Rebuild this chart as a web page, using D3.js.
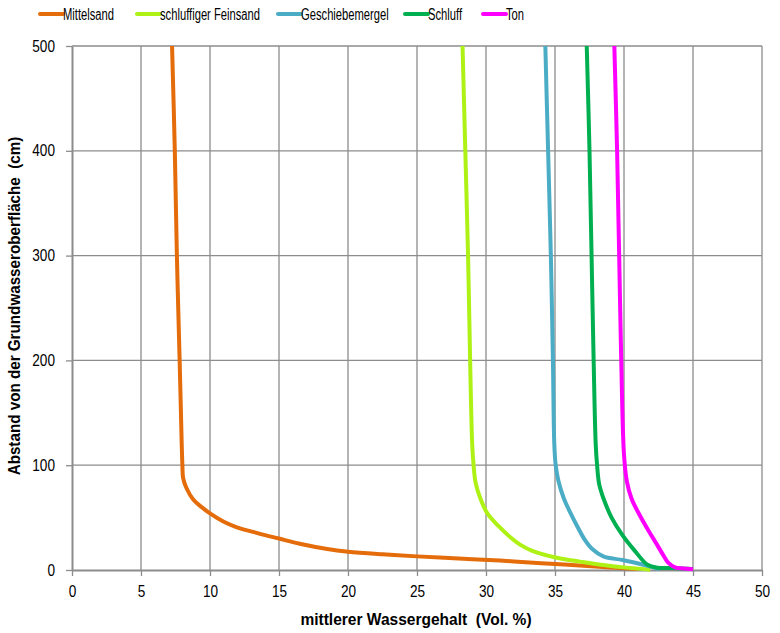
<!DOCTYPE html>
<html>
<head>
<meta charset="utf-8">
<script src="https://cdn.jsdelivr.net/npm/d3@7"></script>
<style>
  body { margin: 0; background: #fff; }
  text { font-family: "Liberation Sans", Arial, sans-serif; fill: #000; white-space: pre; }
</style>
</head>
<body>
<svg id="chart" width="780" height="633"></svg>
<script>
// mean water content (Vol. %) against height above groundwater table (cm)
var mittelsand = [[7.25,500],[7.45,400],[7.6,300],[7.8,200],[7.95,120],[8.0,100],[8.05,88],[8.3,78],[8.8,67],[9.4,60],[10,54],[11,46],[11.9,41],[13.5,35],[15,30],[16.5,25],[18.5,20],[20,17.5],[22.5,15],[25,13],[28,11],[31,9],[34,6.5],[36.5,4.5],[39,2.5],[41,1]];
var feinsand = [[28.3,500],[28.5,400],[28.7,300],[28.85,200],[29.0,120],[29.1,100],[29.25,83],[29.6,68],[30.1,54],[30.9,42],[31.7,32],[32.5,24],[33.4,18],[34.4,14],[35.4,11],[36.8,8],[38.3,5],[40,2.5],[41.9,0.3]];
var geschiebemergel = [[34.3,500],[34.5,400],[34.7,300],[34.85,200],[34.95,120],[35.05,100],[35.25,85],[35.65,68],[36.1,55],[36.6,42],[37.15,29],[37.7,20],[38.5,13],[39.9,9.5],[41.4,5],[42.6,1]];
var schluff = [[37.3,500],[37.5,400],[37.65,300],[37.8,200],[37.95,120],[38.05,100],[38.2,82],[38.55,67],[39.1,50],[39.9,33],[40.8,18],[41.7,5],[42.4,2.2],[43.5,1.8],[45,1]];
var ton = [[39.3,500],[39.5,400],[39.65,300],[39.8,200],[40.0,110],[40.2,85],[40.55,68],[41.15,52],[41.8,37],[42.4,24],[42.9,13],[43.2,7],[43.7,2.5],[44.3,1.5],[45,0.8]];

var seriesNames = ["Mittelsand", "schluffiger Feinsand", "Geschiebemergel", "Schluff", "Ton"];
var seriesColors = ["#E46C0A", "#AEF215", "#4BACC6", "#00B050", "#FF00FF"];
var seriesData = [mittelsand, feinsand, geschiebemergel, schluff, ton];
var xTicks = [0, 5, 10, 15, 20, 25, 30, 35, 40, 45, 50];
var yTicks = [0, 100, 200, 300, 400, 500];

var svg = d3.select("#chart"),
    plotLeft = 72, plotRight = 762, plotTop = 46, plotBottom = 570;

var x = d3.scaleLinear().domain([0, 50]).range([plotLeft, plotRight]);
var y = d3.scaleLinear().domain([0, 500]).range([plotBottom, plotTop]);

// squeeze text horizontally, the original font is a narrow one
function narrow(sel, f) {
  sel.each(function() {
    var w = this.getComputedTextLength();
    d3.select(this).attr("textLength", w * f).attr("lengthAdjust", "spacingAndGlyphs");
  });
}

// grid
svg.append("g").selectAll("line")
    .data(xTicks.slice(1))
    .enter().append("line")
    .attr("x1", d => x(d)).attr("x2", d => x(d))
    .attr("y1", plotTop).attr("y2", plotBottom)
    .attr("stroke", "#8c8c8c").attr("stroke-width", 1.3);

svg.append("g").selectAll("line")
    .data(yTicks.slice(1))
    .enter().append("line")
    .attr("x1", plotLeft).attr("x2", plotRight)
    .attr("y1", d => y(d)).attr("y2", d => y(d))
    .attr("stroke", "#8c8c8c").attr("stroke-width", 1.3);

// axes
var xAxis = svg.append("g")
    .attr("transform", "translate(0," + plotBottom + ")")
    .call(d3.axisBottom(x).tickValues(xTicks).tickSize(6).tickPadding(10).tickSizeOuter(0));
var yAxis = svg.append("g")
    .attr("transform", "translate(" + plotLeft + ",0)")
    .call(d3.axisLeft(y).tickValues(yTicks).tickSize(6).tickPadding(11).tickSizeOuter(0));

[xAxis, yAxis].forEach(function(a) {
  a.select(".domain").attr("stroke", "#8c8c8c").attr("stroke-width", 2);
  a.selectAll(".tick line").attr("stroke", "#8c8c8c").attr("stroke-width", 1.3);
  a.selectAll(".tick text")
    .attr("font-size", 16)
    .attr("font-family", "Liberation Sans, Arial, sans-serif")
    .attr("fill", "#000")
    .call(narrow, 0.85);
});

// curves
var line = d3.line()
    .x(d => x(d[0]))
    .y(d => y(d[1]))
    .curve(d3.curveCatmullRom.alpha(0.5));

seriesData.forEach(function(s, i) {
  svg.append("path")
    .datum(s.slice().reverse())
    .attr("d", line)
    .attr("fill", "none")
    .attr("stroke", seriesColors[i])
    .attr("stroke-width", 4)
    .attr("stroke-linejoin", "round");
});

// legend
var legendX = [40, 137, 278, 405, 483];
seriesNames.forEach(function(name, i) {
  svg.append("line")
    .attr("x1", legendX[i]).attr("x2", legendX[i] + 23)
    .attr("y1", 14).attr("y2", 14)
    .attr("stroke", seriesColors[i])
    .attr("stroke-width", 4)
    .attr("stroke-linecap", "round");
  svg.append("text")
    .attr("x", legendX[i] + 23)
    .attr("y", 20)
    .attr("font-size", 16)
    .text(name)
    .call(narrow, 0.7);
});

// axis titles
svg.append("text")
  .attr("x", 416).attr("y", 625)
  .attr("text-anchor", "middle")
  .attr("font-size", 16)
  .attr("font-weight", "bold")
  .text("mittlerer Wassergehalt  (Vol. %)")
  .call(narrow, 0.97);

svg.append("text")
  .attr("transform", "translate(20,306) rotate(-90)")
  .attr("text-anchor", "middle")
  .attr("font-size", 16)
  .attr("font-weight", "bold")
  .text("Abstand von der Grundwasseroberfläche  (cm)")
  .call(narrow, 0.95);
</script>
</body>
</html>
